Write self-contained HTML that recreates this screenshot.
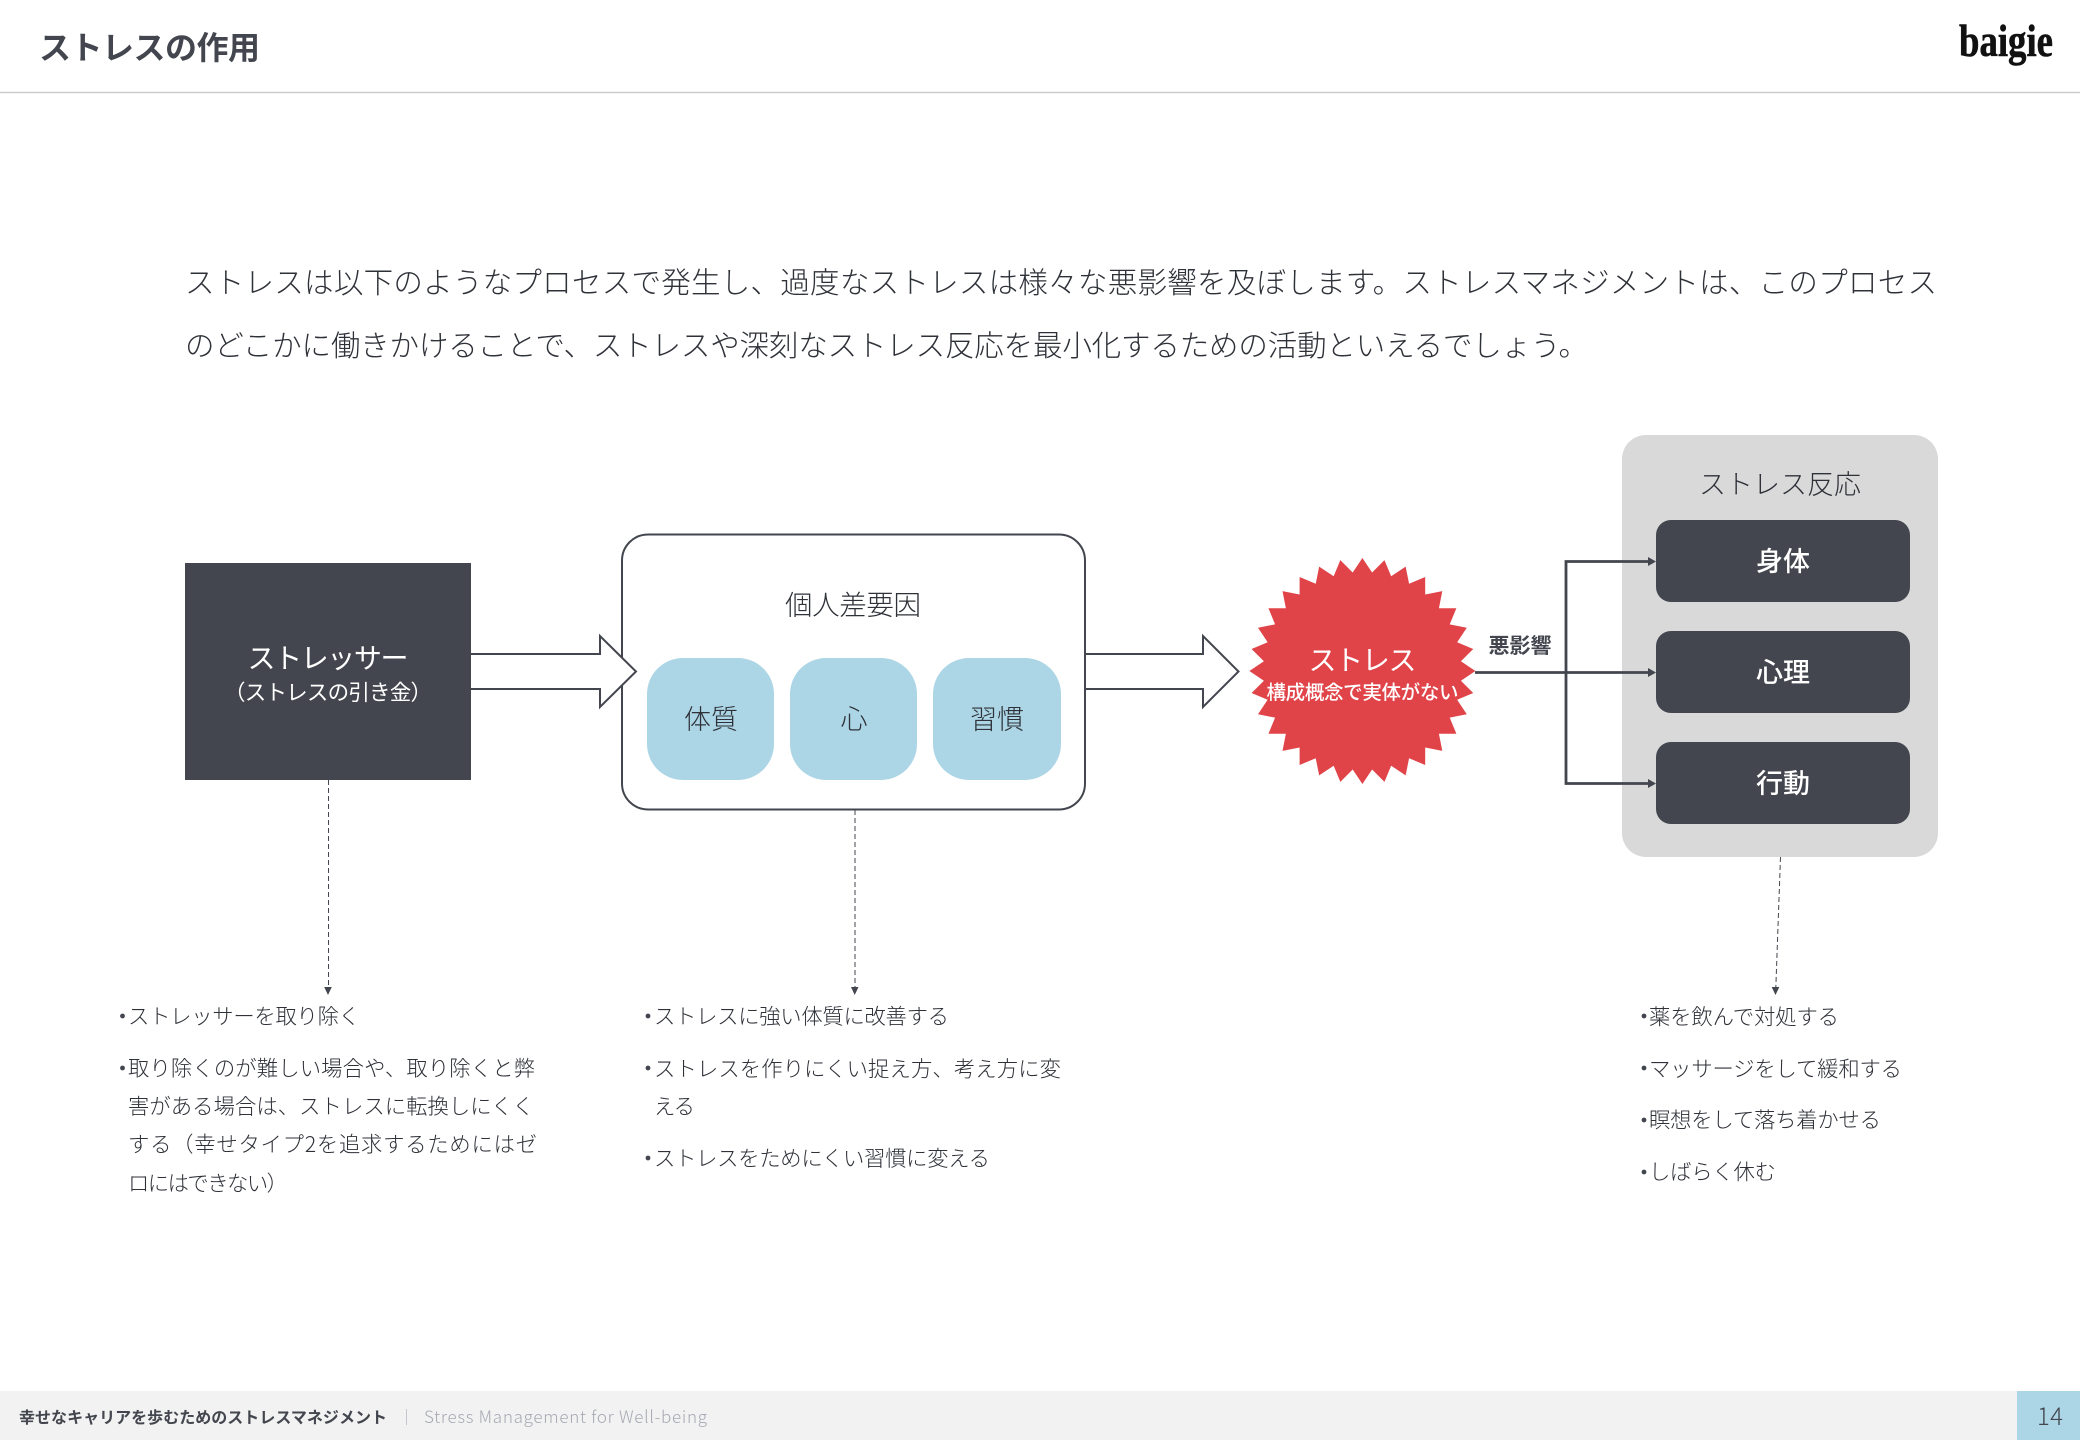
<!DOCTYPE html>
<html lang="ja"><head><meta charset="utf-8"><title>ストレスの作用</title>
<style>
html,body{margin:0;padding:0;background:#fff}
svg{display:block}
text{font-family:"Liberation Sans","Noto Sans CJK JP",sans-serif;fill:#43464e}
.l{font-weight:300;fill:#2e3138}
.b{font-weight:700}
.w{fill:#fff}
.i{font-size:29.5px;font-weight:300;fill:#2e3138}
.s{font-size:21.33px;font-weight:300;fill:#2e3138}
.n{font-family:"Noto Sans CJK JP",sans-serif}
</style></head><body>
<svg width="2080" height="1440" viewBox="0 0 2080 1440" xmlns="http://www.w3.org/2000/svg">
<rect width="2080" height="1440" fill="#fff"/>
<line x1="0" y1="92.5" x2="2080" y2="92.5" stroke="#cccccc" stroke-width="1.5"/>
<text class="b" x="39" y="59" font-size="32" textLength="221">ストレスの作用</text>
<text x="1959" y="56" font-size="45" textLength="94" lengthAdjust="spacingAndGlyphs" stroke="#111" stroke-width="0.6" style="font-family:'Liberation Serif',serif;font-weight:700;fill:#111">baigie</text>

<text class="i" x="185" y="293" textLength="1752">ストレスは以下のようなプロセスで発生し、過度なストレスは様々な悪影響を及ぼします。ストレスマネジメントは、このプロセス</text>
<text class="i" x="185" y="356" textLength="1403">のどこかに働きかけることで、ストレスや深刻なストレス反応を最小化するための活動といえるでしょう。</text>

<!-- stressor -->
<rect x="185" y="563" width="286" height="217" fill="#43464e"/>
<text class="w" x="328" y="668" font-size="28" font-weight="400" text-anchor="middle" textLength="161">ストレッサー</text>
<text class="w" x="328" y="700" font-size="21.5" font-weight="400" text-anchor="middle" textLength="208">（ストレスの引き金）</text>

<!-- individual box -->
<rect x="622" y="534.5" width="463" height="275" rx="26" ry="26" fill="#fff" stroke="#43464e" stroke-width="2"/>
<text class="l" x="853" y="614.5" font-size="27.5" text-anchor="middle" textLength="136">個人差要因</text>
<rect x="647" y="658" width="127" height="122" rx="36" ry="36" fill="#acd6e6"/>
<rect x="790" y="658" width="127" height="122" rx="36" ry="36" fill="#acd6e6"/>
<rect x="933" y="658" width="128" height="122" rx="36" ry="36" fill="#acd6e6"/>
<text class="l" x="711" y="729" font-size="27" text-anchor="middle">体質</text>
<text class="l" x="854" y="729" font-size="27" text-anchor="middle">心</text>
<text class="l" x="997" y="729" font-size="27" text-anchor="middle">習慣</text>

<!-- block arrows -->
<path d="M471 654H600V636L636 671.5L600 707V689H471" fill="#fff" stroke="#43464e" stroke-width="2" stroke-linejoin="miter"/>
<path d="M1086 654H1203V636L1238.5 671.5L1203 707V689H1086" fill="#fff" stroke="#43464e" stroke-width="2" stroke-linejoin="miter"/>

<!-- burst -->
<polygon fill="#e04449" points="1362.4,558 1372.1,572.48 1384.45,560.17 1391.14,576.26 1405.64,566.6 1409.07,583.69 1425.18,577.04 1425.2,594.47 1442.3,591.1 1438.93,608.2 1456.36,608.22 1449.71,624.33 1466.8,627.76 1457.14,642.26 1473.23,648.95 1460.92,661.3 1475.4,671 1460.92,680.7 1473.23,693.05 1457.14,699.74 1466.8,714.24 1449.71,717.67 1456.36,733.78 1438.93,733.8 1442.3,750.9 1425.2,747.53 1425.18,764.96 1409.07,758.31 1405.64,775.4 1391.14,765.74 1384.45,781.83 1372.1,769.52 1362.4,784 1352.7,769.52 1340.35,781.83 1333.66,765.74 1319.16,775.4 1315.73,758.31 1299.62,764.96 1299.6,747.53 1282.5,750.9 1285.87,733.8 1268.44,733.78 1275.09,717.67 1258,714.24 1267.66,699.74 1251.57,693.05 1263.88,680.7 1249.4,671 1263.88,661.3 1251.57,648.95 1267.66,642.26 1258,627.76 1275.09,624.33 1268.44,608.22 1285.87,608.2 1282.5,591.1 1299.6,594.47 1299.62,577.04 1315.73,583.69 1319.16,566.6 1333.66,576.26 1340.35,560.17 1352.7,572.48"/>
<text class="w" x="1362.5" y="670" font-size="28" font-weight="400" text-anchor="middle" textLength="108">ストレス</text>
<text class="w" x="1362.5" y="699" font-size="19.5" font-weight="500" text-anchor="middle" textLength="192">構成概念で実体がない</text>
<text class="b" x="1520" y="653" font-size="21" text-anchor="middle" textLength="63">悪影響</text>

<!-- right panel -->
<rect x="1622" y="435" width="316" height="422" rx="24" ry="24" fill="#d9d9d9"/>
<text class="l" x="1780" y="494" font-size="27" text-anchor="middle" textLength="162">ストレス反応</text>
<rect x="1656" y="520" width="254" height="82" rx="15" ry="15" fill="#43464e"/>
<rect x="1656" y="631" width="254" height="82" rx="15" ry="15" fill="#43464e"/>
<rect x="1656" y="742" width="254" height="82" rx="15" ry="15" fill="#43464e"/>
<text class="w" x="1783" y="571" font-size="27" font-weight="500" text-anchor="middle">身体</text>
<text class="w" x="1783" y="682" font-size="27" font-weight="500" text-anchor="middle">心理</text>
<text class="w" x="1783" y="793" font-size="27" font-weight="500" text-anchor="middle">行動</text>

<!-- connectors -->
<g stroke="#43464e" stroke-width="2.8" fill="none">
<path d="M1475 672.5H1650"/>
<path d="M1650 561.5H1566V783.5H1650"/>
</g>
<g fill="#43464e">
<polygon points="1656,561.5 1648,557 1648,566"/>
<polygon points="1656,672.5 1648,668 1648,677"/>
<polygon points="1656,783.5 1648,779 1648,788"/>
<polygon points="328,995 324.2,987 331.8,987"/>
<polygon points="854.7,995 851,987 858.5,987"/>
<polygon points="1775.5,995 1771.7,987 1779.3,987"/>
</g>
<g stroke="#43464e" stroke-width="1" stroke-dasharray="5 3" fill="none">
<line x1="328.5" y1="780" x2="328.5" y2="988"/>
<line x1="855" y1="810" x2="855" y2="988"/>
<line x1="1780.5" y1="857" x2="1775.8" y2="988"/>
</g>

<!-- bullets -->
<g fill="#43464e">
<circle cx="122.5" cy="1016" r="2.4"/><circle cx="122.5" cy="1068" r="2.4"/>
<circle cx="648" cy="1016" r="2.4"/><circle cx="648" cy="1068" r="2.4"/><circle cx="648" cy="1158" r="2.4"/>
<circle cx="1644" cy="1016" r="2.4"/><circle cx="1644" cy="1068" r="2.4"/><circle cx="1644" cy="1120" r="2.4"/><circle cx="1644" cy="1172" r="2.4"/>
</g>
<text class="s" x="128" y="1024" textLength="232">ストレッサーを取り除く</text>
<text class="s" x="128" y="1076" textLength="407">取り除くのが難しい場合や、取り除くと弊</text>
<text class="s" x="128" y="1114" textLength="406">害がある場合は、ストレスに転換しにくく</text>
<text class="s n" x="128" y="1152" textLength="409">する（幸せタイプ2を追求するためにはゼ</text>
<text class="s" x="128" y="1191" textLength="160">ロにはできない）</text>

<text class="s" x="654" y="1024" textLength="295">ストレスに強い体質に改善する</text>
<text class="s" x="654" y="1076.5" textLength="407">ストレスを作りにくい捉え方、考え方に変</text>
<text class="s" x="654" y="1114" textLength="41">える</text>
<text class="s" x="654" y="1166" textLength="336">ストレスをためにくい習慣に変える</text>

<text class="s" x="1649" y="1024.5" textLength="190">薬を飲んで対処する</text>
<text class="s" x="1649" y="1076.5" textLength="253">マッサージをして緩和する</text>
<text class="s" x="1649" y="1127.5" textLength="232">瞑想をして落ち着かせる</text>
<text class="s" x="1649" y="1179.5" textLength="127">しばらく休む</text>

<!-- footer -->
<rect x="0" y="1391" width="2080" height="49" fill="#f2f2f2"/>
<rect x="2017" y="1391" width="63" height="49" fill="#acd6e6"/>
<text class="b" x="19" y="1423" font-size="16" textLength="368">幸せなキャリアを歩むためのストレスマネジメント</text>
<line x1="406.5" y1="1409" x2="406.5" y2="1425" stroke="#c4c6cc" stroke-width="1"/>
<text class="n" x="424" y="1423" font-size="17" font-weight="300" textLength="283" style="fill:#a6a9b3">Stress Management for Well-being</text>
<text class="n" x="2037" y="1425" font-size="24" font-weight="300" textLength="26">14</text>
</svg>
</body></html>
